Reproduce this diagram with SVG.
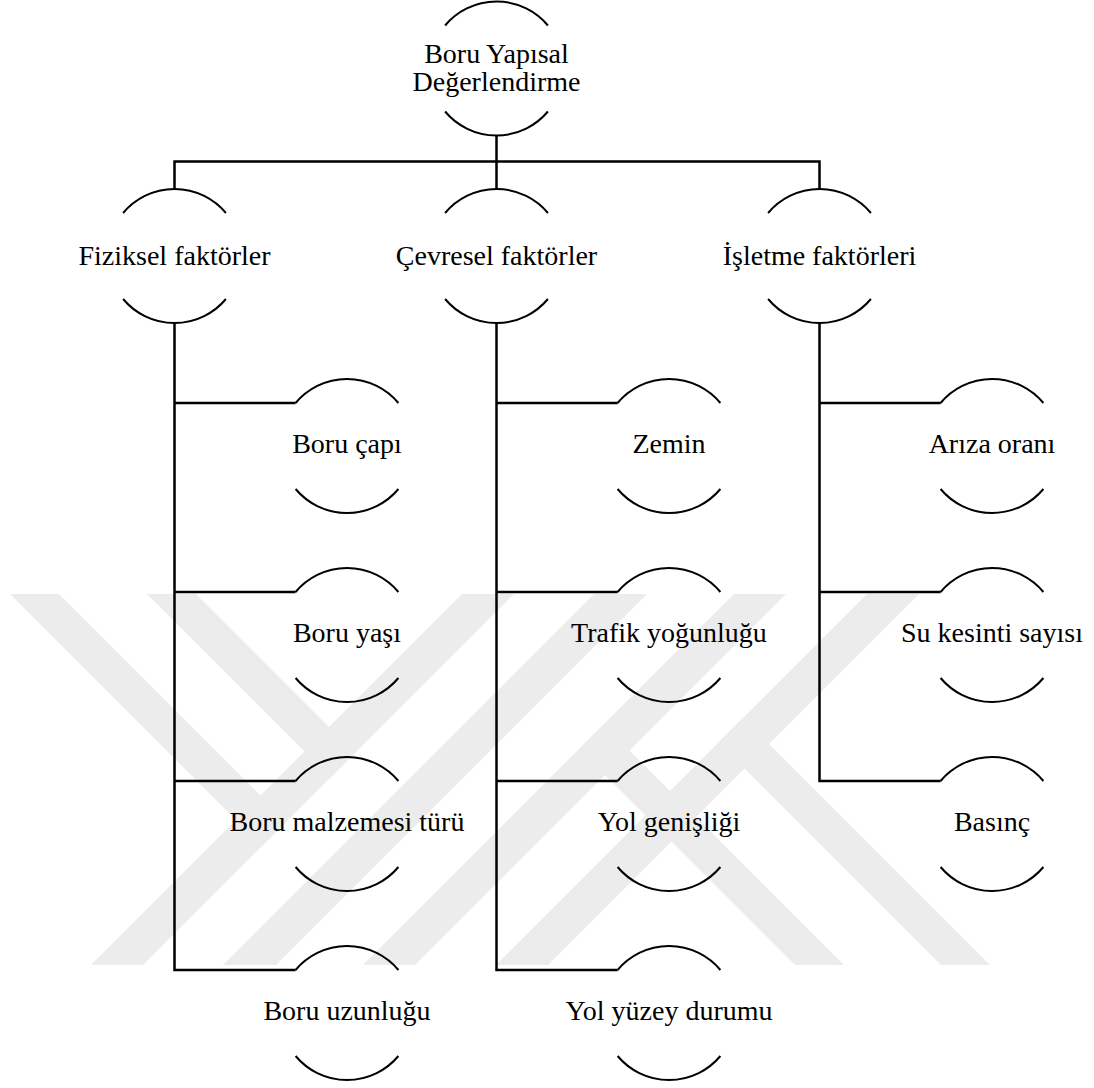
<svg xmlns="http://www.w3.org/2000/svg" width="1094" height="1088" viewBox="0 0 1094 1088">
<style>
.bg{fill:#ffffff}
.wm{fill:#ececec;stroke:none}
.arc{fill:none;stroke:#000;stroke-width:2}
.con{fill:none;stroke:#000;stroke-width:2.5;stroke-linejoin:miter}
.t{font-family:"Liberation Serif","Times New Roman",serif;font-size:28px;fill:#000;text-anchor:middle}
</style>
<defs>
<path id="node" class="arc" d="M-51.4,-43 A67,67 0 0 1 51.4,-43 M-51.4,43 A67,67 0 0 0 51.4,43"/>
</defs>
<rect class="bg" x="0" y="0" width="1094" height="1088"/>
<g id="watermark">
<polygon class="wm" points="91,965 143,965 514,594 462,594"/>
<polygon class="wm" points="223,965 276,965 647,594 594,594"/>
<polygon class="wm" points="363,965 415,965 786,594 734,594"/>
<polygon class="wm" points="496,965 548,965 919,594 867,594"/>
<polygon class="wm" points="10,594 59,594 286.5,821.5 262,846"/>
<polygon class="wm" points="147,594 196,594 355,753 330.5,777.5"/>
<polygon class="wm" points="579,749 603.5,724.5 844,965 795,965"/>
<polygon class="wm" points="718.5,742.5 743,718 990,965 941,965"/>
</g>
<g id="connectors">
<path class="con" d="M496.5,135.5 V161.5"/>
<path class="con" d="M174.5,189 V161.5 H819.5 V189"/>
<path class="con" d="M496.5,161.5 V189"/>
<path class="con" d="M174.5,323 V970 H295.6"/>
<path class="con" d="M174.5,403 H295.6 M174.5,592 H295.6 M174.5,781 H295.6"/>
<path class="con" d="M496.5,323 V970 H617.6"/>
<path class="con" d="M496.5,403 H617.6 M496.5,592 H617.6 M496.5,781 H617.6"/>
<path class="con" d="M819.5,323 V781 H940.6"/>
<path class="con" d="M819.5,403 H940.6 M819.5,592 H940.6"/>
</g>
<g id="n-root"><use href="#node" x="496.5" y="68.5"/><text class="t" x="496.5" y="62.5">Boru Yapısal</text><text class="t" x="496.5" y="90.5">Değerlendirme</text></g>
<g id="n-fiziksel"><use href="#node" x="174.5" y="256"/><text class="t" x="174.5" y="265">Fiziksel faktörler</text></g>
<g id="n-cevresel"><use href="#node" x="496.5" y="256"/><text class="t" x="496.5" y="265">Çevresel faktörler</text></g>
<g id="n-isletme"><use href="#node" x="819.5" y="256"/><text class="t" x="819.5" y="265">İşletme faktörleri</text></g>
<g id="n-cap"><use href="#node" x="347" y="446"/><text class="t" x="347" y="453">Boru çapı</text></g>
<g id="n-yas"><use href="#node" x="347" y="635"/><text class="t" x="347" y="642">Boru yaşı</text></g>
<g id="n-malzeme"><use href="#node" x="347" y="824"/><text class="t" x="347" y="831">Boru malzemesi türü</text></g>
<g id="n-uzunluk"><use href="#node" x="347" y="1013"/><text class="t" x="347" y="1020">Boru uzunluğu</text></g>
<g id="n-zemin"><use href="#node" x="669" y="446"/><text class="t" x="669" y="453">Zemin</text></g>
<g id="n-trafik"><use href="#node" x="669" y="635"/><text class="t" x="669" y="642">Trafik yoğunluğu</text></g>
<g id="n-genislik"><use href="#node" x="669" y="824"/><text class="t" x="669" y="831">Yol genişliği</text></g>
<g id="n-yuzey"><use href="#node" x="669" y="1013"/><text class="t" x="669" y="1020">Yol yüzey durumu</text></g>
<g id="n-ariza"><use href="#node" x="992" y="446"/><text class="t" x="992" y="453">Arıza oranı</text></g>
<g id="n-kesinti"><use href="#node" x="992" y="635"/><text class="t" x="992" y="642">Su kesinti sayısı</text></g>
<g id="n-basinc"><use href="#node" x="992" y="824"/><text class="t" x="992" y="831">Basınç</text></g>
</svg>
